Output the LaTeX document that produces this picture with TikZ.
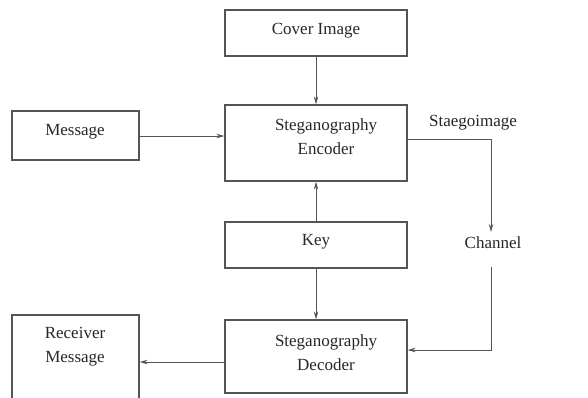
\documentclass[tikz,border=0pt]{standalone}
\usepackage{fontspec}
\setmainfont{Liberation Serif}
\usetikzlibrary{arrows.meta}
\definecolor{linegray}{HTML}{555555}

\tikzset{
  box/.style={draw=linegray, line width=1.2pt, minimum width=182pt, minimum height=46pt, inner sep=0pt},
  smallbox/.style={box, minimum width=127pt},
  lbl/.style={align=center, inner sep=0pt, text=black!85},
  arr/.style={draw=linegray, line width=1pt, -{Stealth[length=8pt,width=4.5pt]}}
}

\begin{document}
\begin{tikzpicture}[x=1pt, y=-1pt, every node/.style={font=\fontsize{17}{24}\selectfont}]
    \useasboundingbox (0,0) rectangle (588,397);
    % boxes
    \node[box] (cover) at (316,33) {};
    \node[lbl] (covertxt) at (316,31) {Cover Image};
    \node[box, minimum height=76pt] (enc) at (316,143) {};
    \node[lbl] (enctxt) at (326,137) {Steganography\\Encoder};
    \node[smallbox, minimum height=49pt] (msg) at (75.5,135.5) {};
    \node[lbl] (msgtxt) at (75,132) {Message};
    \node[box] (key) at (316,245) {};
    \node[lbl] (keytxt) at (316,242) {Key};
    \node[box, minimum height=73pt] (dec) at (316,356.5) {};
    \node[lbl] (dectxt) at (326,353) {Steganography\\Decoder};
    \node[smallbox, minimum height=90pt] (recv) at (75.5,360) {};
    \node[lbl] (recvtxt) at (75,347) {Receiver\\Message};
    % labels on the channel path
    \node[lbl] (stego) at (473,123) {Staegoimage};
    \node[lbl] (chan) at (493,243) {Channel};
    \coordinate (c1) at (491,139);
    \coordinate (c2) at (491,232);
    \coordinate (c3) at (491,267);
    \coordinate (c4) at (491,350);
    % connectors
    \draw[arr] (cover) -- (enc);
    \draw[arr] (msg.east |- 0,136) -- (enc.west |- 0,136);
    \draw[arr] (key) -- (enc);
    \draw[arr] (key) -- (dec);
    \draw[arr] (enc.east |- c1) -- (c1) -- (c2);
    \draw[arr] (c3) -- (c4) -- (dec.east |- c4);
    \draw[arr] ([yshift=-5.5pt]dec.west) -- (recv.east |- 0,362);
\end{tikzpicture}
\end{document}
